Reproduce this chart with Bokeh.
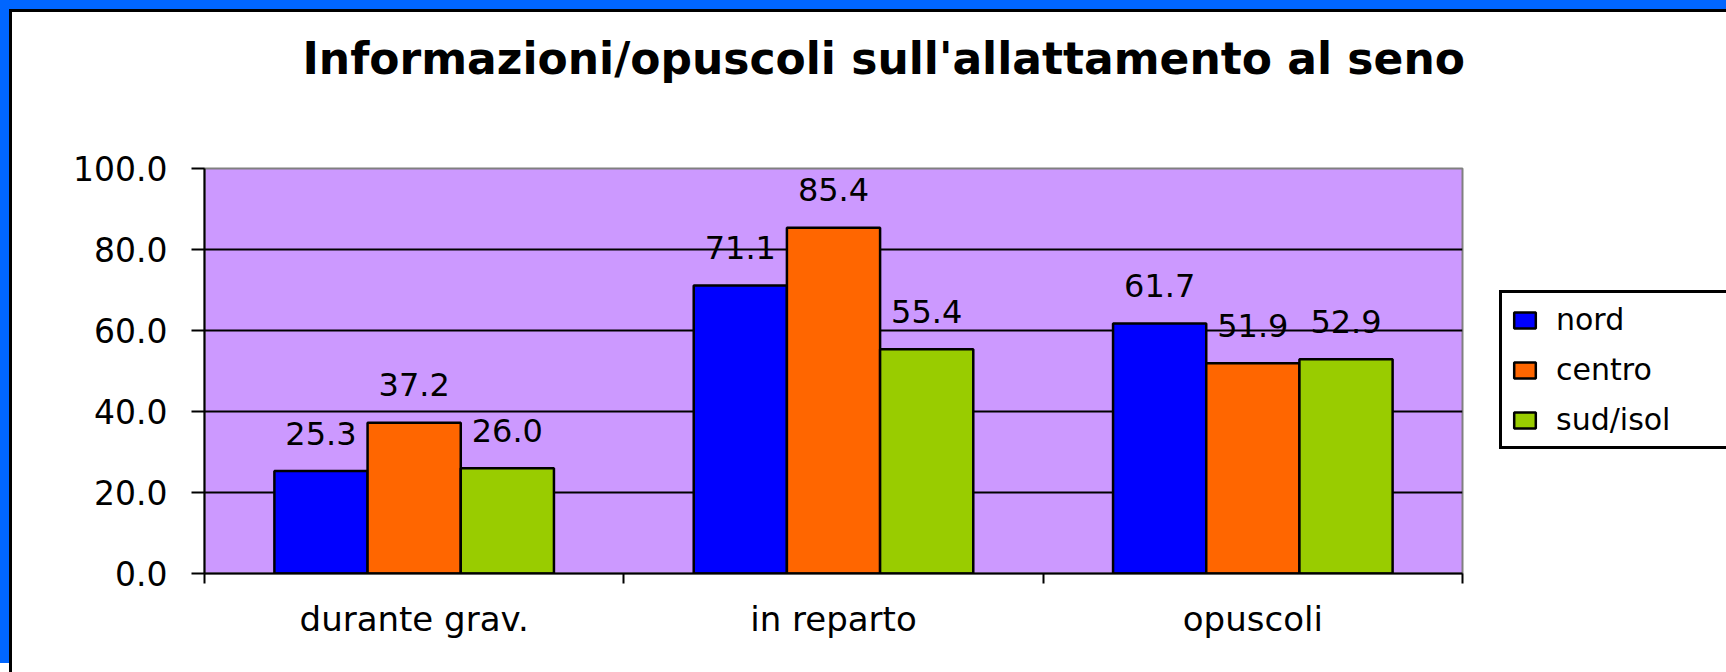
from bokeh.plotting import figure
from bokeh.models import (FactorRange, LinearAxis, CategoricalAxis, FixedTicker, PrintfTickFormatter,
                          Legend, LegendItem, ColumnDataSource, Grid)
from bokeh.transform import dodge
from bokeh.core.properties import value
from bokeh.embed import file_html
from bokeh.resources import INLINE

# ---- data ----
categories = ["durante grav.", "in reparto", "opuscoli"]
series = ["nord", "centro", "sud/isol"]
nord = [25.3, 71.1, 61.7]
centro = [37.2, 85.4, 51.9]
sud_isol = [26.0, 55.4, 52.9]
colors = ["#0000FF", "#FF6600", "#99CC00"]
y_ticks = [0, 20, 40, 60, 80, 100]
title_text = "Informazioni/opuscoli sull'allattamento al seno"

FONT = "DejaVu Sans"
W, H = 1714, 660          # canvas size (canvas starts at page x=12, y=12)
FL, FT, FW, FH = 192, 156, 1258, 405

p = figure(x_range=FactorRange(*categories), y_range=(0, 100),
           frame_width=FW, frame_height=FH,
           min_border_left=FL, min_border_right=W - FL - FW,
           min_border_top=FT, min_border_bottom=H - FT - FH,
           output_backend="svg", toolbar_location=None,
           x_axis_location=None, y_axis_location=None,
           background_fill_color="#CC99FF", border_fill_color="white",
           outline_line_color="#808080", outline_line_width=2,
           title=title_text)
p.center = [c for c in p.center if not isinstance(c, Grid)]

# title
p.title.align = "left"
p.title.offset = 98
p.title.vertical_align = "top"
p.title.standoff = 40
p.title.text_font = FONT
p.title.text_font_style = "bold"
p.title.text_font_size = "44px"
p.title.text_color = "black"

# blue / black slide frame on the left and top
p.styles = {"margin": "9px 0px 0px 9px",
            "border-left": "3px solid black", "border-top": "3px solid black",
            "box-shadow": "-9px -9px 0px 0px #0066FF"}

# grid
p.add_layout(Grid(dimension=1, ticker=FixedTicker(ticks=y_ticks[1:-1]),
                  grid_line_color="black", grid_line_width=2))

# y axis
yax = LinearAxis(ticker=FixedTicker(ticks=y_ticks), formatter=PrintfTickFormatter(format="%.1f"),
                 major_tick_out=13, major_tick_in=0, minor_tick_out=0, minor_tick_in=0,
                 axis_line_color="black", axis_line_width=2, major_tick_line_width=2,
                 major_label_standoff=24, major_label_text_font=FONT,
                 major_label_text_font_size="33px", major_label_text_color="black")
p.add_layout(yax, "left")

# x axis: boundary ticks, then category labels
n = len(categories)
tick_ax = LinearAxis(ticker=FixedTicker(ticks=list(range(n + 1))),
                     major_tick_out=10, major_tick_in=0, minor_tick_out=0, minor_tick_in=0,
                     axis_line_color="black", axis_line_width=2, major_tick_line_width=2,
                     major_label_text_color=None, major_label_text_font_size="0px",
                     major_label_standoff=0)
p.add_layout(tick_ax, "below")
cat_ax = CategoricalAxis(major_tick_out=0, major_tick_in=0, axis_line_color=None,
                         major_tick_line_color=None,
                         major_label_standoff=15, major_label_text_font=FONT,
                         major_label_text_font_size="34px", major_label_text_color="black")
p.add_layout(cat_ax, "below")

# empty space between title and frame (invisible axis)
spacer = LinearAxis(ticker=FixedTicker(ticks=[0]), major_tick_out=63, major_tick_in=0,
                    minor_tick_out=0, minor_tick_in=0, axis_line_color=None,
                    major_tick_line_color=None, minor_tick_line_color=None,
                    major_label_text_color=None, major_label_text_font_size="0px",
                    major_label_standoff=0)
p.add_layout(spacer, "above")

# bars
src = ColumnDataSource(dict(
    cat=categories, nord=nord, centro=centro, sud=sud_isol,
    nord_lbl=[f"{v:.1f}" for v in nord],
    centro_lbl=[f"{v:.1f}" for v in centro],
    sud_lbl=[f"{v:.1f}" for v in sud_isol],
))
bw = 1 / 4.5
keys = ["nord", "centro", "sud"]
renderers = []
for i, (k, c) in enumerate(zip(keys, colors)):
    off = (i - 1) * bw
    r = p.vbar(x=dodge("cat", off, range=p.x_range), top=k, width=bw, source=src,
               fill_color=c, line_color="black", line_width=2.5)
    renderers.append(r)
    p.text(x=dodge("cat", off, range=p.x_range), y=k, text=k + "_lbl", source=src,
           y_offset=-38, text_align="center", text_baseline="alphabetic",
           text_font=value(FONT), text_font_size="32px", text_color="black")

legend = Legend(items=[LegendItem(label=s, renderers=[r]) for s, r in zip(series, renderers)],
                location=(37, 124), padding=9, spacing=15, margin=0,
                glyph_width=27, glyph_height=20, label_standoff=18, label_width=170,
                label_text_font=FONT, label_text_font_size="30px", label_text_color="black",
                border_line_color="black", border_line_width=3, border_line_alpha=1,
                background_fill_color="white", background_fill_alpha=1)
p.add_layout(legend, "right")

open("out.html", "w").write(file_html(p, INLINE))
